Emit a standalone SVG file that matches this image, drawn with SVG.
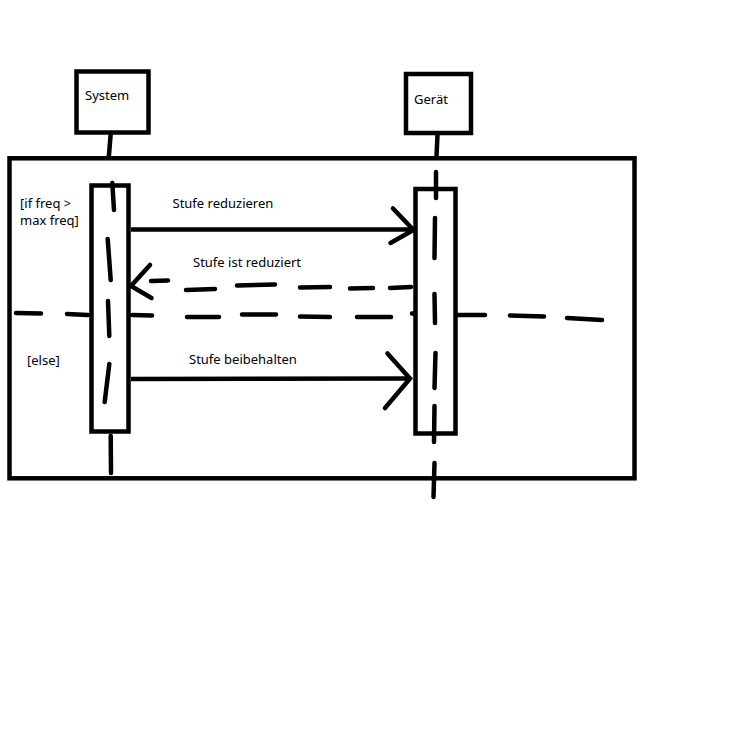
<svg xmlns="http://www.w3.org/2000/svg" width="740" height="736" viewBox="0 0 740 736">
<style>
.box{fill:#fff;stroke:#000;stroke-width:4.5}
.frame{fill:none;stroke:#000;stroke-width:4.5}
.ln{fill:none;stroke:#000;stroke-width:4.5;stroke-linecap:round}
.sq{fill:none;stroke:#000;stroke-width:4.5;stroke-linecap:butt}
text{font-family:"Noto Sans","Open Sans","DejaVu Sans",sans-serif;font-size:13px;fill:#000}
</style>
<rect width="740" height="736" fill="#fff"/>
<g id="frame">
<rect class="frame" x="9.5" y="158.3" width="625" height="320"/>
<text x="20" y="208">[if freq &gt;</text>
<text x="20" y="225">max freq]</text>
<text x="27" y="365">[else]</text>
</g>
<g id="separator">
<path class="ln" d="M16,313 L41,313.5 M67,314 L88,315 M132,315 L152,315.5 M187,317 L219,317 M242,314.5 L276,314.5 M300,316.5 L330,317 M357,317 L391,317 M412,313.5 L433,313 M458,315 L485,315 M510,315.5 L544,316.5 M567,318 L602,320"/>
</g>
<g id="system">
<path class="sq" d="M110.7,134 L108.7,158"/>
<rect class="box" x="91.5" y="185.5" width="37" height="246"/>
<path class="ln" d="M112.3,183 L114,210 M107.7,239 L110.7,280 M108,301 L109.3,336 M109.3,364 L104.7,402 M110.7,436 L111,473"/>
<rect class="box" x="76.5" y="71.5" width="72" height="61"/>
<text x="85" y="100">System</text>
</g>
<g id="geraet">
<path class="sq" d="M437.5,135 L436.5,156"/>
<rect class="box" x="415.5" y="189" width="40" height="244.5"/>
<path class="ln" d="M436,172 L436,198 M435,218 L434.5,258 M434.5,294 L435,323 M435.5,353 L434.5,388 M434.5,406 L434,442 M434.5,463 L433.5,497"/>
<rect class="box" x="406" y="74" width="65" height="59"/>
<text x="414" y="104">Gerät</text>
</g>
<g id="connectors">
<g id="msg1">
<path class="sq" d="M131,229.5 L416,229.5"/>
<path class="ln" d="M393,208.5 L413.5,230 L390.5,243"/>
<text x="172.5" y="208">Stufe reduzieren</text>
</g>
<g id="msg2">
<path class="ln" d="M151,281 L168,280.5 M186,290 L215,289 M237,285.5 L275,284.5 M300,287.5 L330,287 M350,288.5 L373,288 M390,288 L411,287"/>
<path class="ln" d="M150,265 L131,286 L151.5,298"/>
<text x="193" y="267">Stufe ist reduziert</text>
</g>
<g id="msg3">
<path class="sq" d="M131,379 L410,378.5"/>
<path class="ln" d="M387.5,353.5 L410,378.5 L385,408"/>
<text x="189" y="364">Stufe beibehalten</text>
</g>
</g>
</svg>
